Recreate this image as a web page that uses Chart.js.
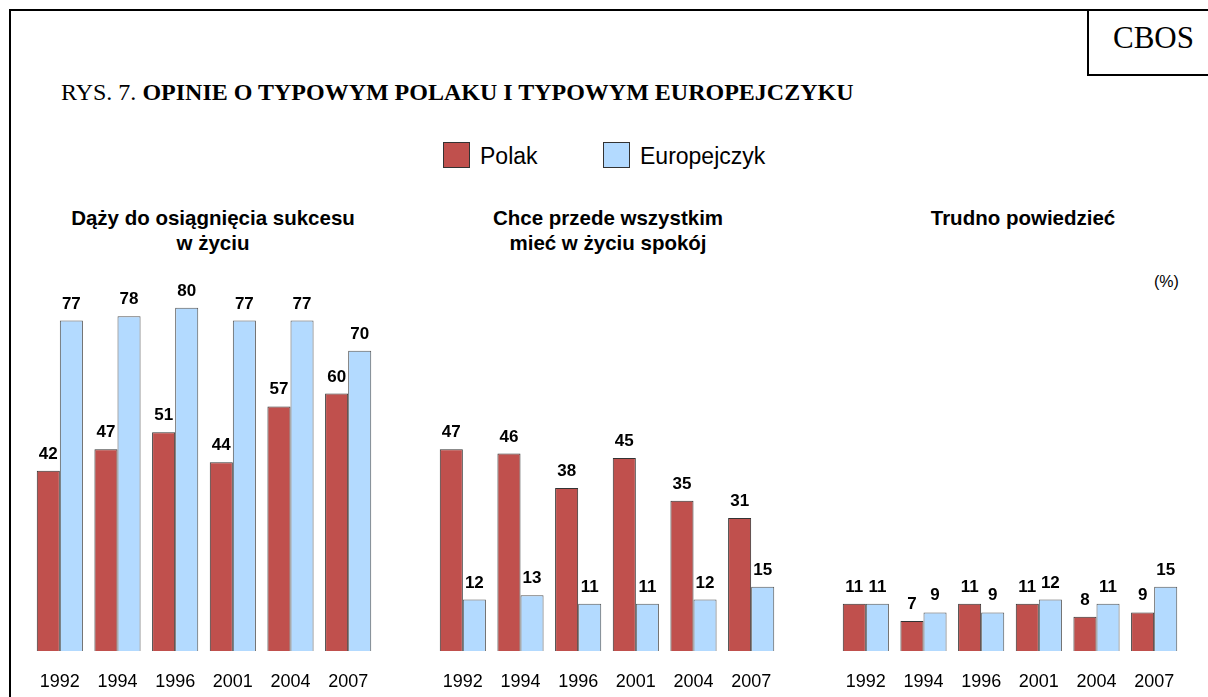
<!DOCTYPE html>
<html>
<head>
<meta charset="utf-8">
<script src="https://cdn.jsdelivr.net/npm/chart.js@4"></script>
<style>
  body{margin:0;background:#fff;width:1208px;height:697px;overflow:hidden;position:relative;font-family:Arial,"Liberation Sans",sans-serif;}
  .frame{position:absolute;left:9px;top:9px;width:1220px;height:720px;border:2px solid #000;box-sizing:border-box;}
  .cbos{position:absolute;left:1087px;top:9px;width:140px;height:67px;border-left:2px solid #000;border-bottom:2px solid #000;box-sizing:border-box;}
  .cbos span{position:absolute;left:24px;top:11px;font-family:"Liberation Serif","Times New Roman",serif;font-size:31px;}
  .title{position:absolute;left:61px;top:80px;font-family:"Liberation Serif","Times New Roman",serif;font-size:24px;line-height:24px;white-space:nowrap;}
  .legend{position:absolute;top:142px;left:0;font-size:23px;}
  .legend .sw{position:absolute;width:27px;height:26px;border:1px solid #333;box-sizing:border-box;top:0;}
  .legend .lb{position:absolute;top:1px;white-space:nowrap;}
  .ptitle{position:absolute;font-weight:bold;font-size:20.5px;text-align:center;line-height:25px;width:400px;top:205px;}
  .pct{position:absolute;left:1154px;top:273px;font-size:16px;}
  canvas{position:absolute;}
</style>
</head>
<body>
<div class="frame"></div>
<div class="cbos"><span>CBOS</span></div>
<div class="title">RYS. 7. <b>OPINIE O TYPOWYM POLAKU I TYPOWYM EUROPEJCZYKU</b></div>
<div class="legend">
  <div class="sw" style="left:443px;background:#C0504D"></div><div class="lb" style="left:480px">Polak</div>
  <div class="sw" style="left:603px;background:#B3DAFF"></div><div class="lb" style="left:640px">Europejczyk</div>
</div>
<div class="ptitle" style="left:13px">Dąży do osiągnięcia sukcesu<br>w życiu</div>
<div class="ptitle" style="left:408px">Chce przede wszystkim<br>mieć w życiu spokój</div>
<div class="ptitle" style="left:823px">Trudno powiedzieć</div>
<div class="pct">(%)</div>
<canvas id="c1" width="346" height="427" style="left:31px;top:270px"></canvas>
<canvas id="c2" width="346" height="427" style="left:434px;top:270px"></canvas>
<canvas id="c3" width="346" height="427" style="left:837px;top:270px"></canvas>
<script>
// lata badań
const years = ['1992','1994','1996','2001','2004','2007'];

// Dąży do osiągnięcia sukcesu w życiu
const sukcesPolak = [42,47,51,44,57,60];
const sukcesEuro  = [77,78,80,77,77,70];

// Chce przede wszystkim mieć w życiu spokój
const spokojPolak = [47,46,38,45,35,31];
const spokojEuro  = [12,13,11,11,12,15];

// Trudno powiedzieć
const trudnoPolak = [11,7,11,11,8,9];
const trudnoEuro  = [11,9,9,12,11,15];

const colPolak = '#C0504D';
const colEuro = '#B3DAFF';

// value labels above the bars
const valueLabels = {
  id:'valueLabels',
  afterDatasetsDraw(chart){
    const ctx = chart.ctx;
    ctx.save();
    ctx.font = 'bold 17px Arial, "Liberation Sans", sans-serif';
    ctx.fillStyle = '#000';
    ctx.textAlign = 'center';
    ctx.textBaseline = 'alphabetic';
    chart.data.datasets.forEach((ds,i)=>{
      chart.getDatasetMeta(i).data.forEach((bar,j)=>{
        ctx.fillText(ds.data[j], bar.x, bar.y - 12);
      });
    });
    ctx.restore();
  }
};

function makePanel(id, polak, euro){
  return new Chart(document.getElementById(id), {
    type:'bar',
    data:{
      labels: years,
      datasets:[
        {label:'Polak', data:polak, backgroundColor:colPolak, borderColor:'#333', borderWidth:1},
        {label:'Europejczyk', data:euro, backgroundColor:colEuro, borderColor:'#555', borderWidth:1}
      ]
    },
    options:{
      responsive:false,
      animation:false,
      layout:{padding:{top:30,bottom:4.4,left:0,right:0}},
      datasets:{bar:{categoryPercentage:0.8, barPercentage:1.0}},
      plugins:{legend:{display:false}, tooltip:{enabled:false}},
      scales:{
        x:{grid:{display:false, drawTicks:true, tickLength:20}, border:{display:false},
           ticks:{padding:0, color:'#000', font:{size:18, family:'Arial, "Liberation Sans", sans-serif'}}},
        y:{display:false, min:0, max:81.8}
      }
    },
    plugins:[valueLabels]
  });
}

makePanel('c1', sukcesPolak, sukcesEuro);
makePanel('c2', spokojPolak, spokojEuro);
makePanel('c3', trudnoPolak, trudnoEuro);
</script>
</body>
</html>
